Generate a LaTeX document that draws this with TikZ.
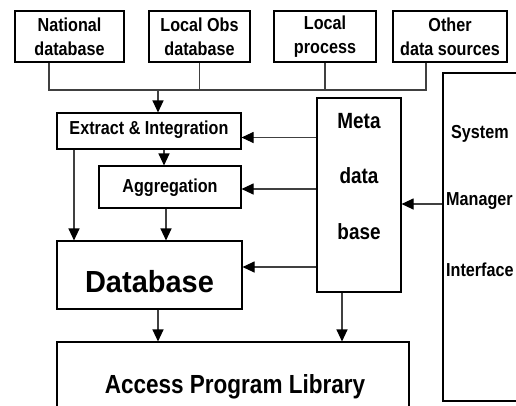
\documentclass[tikz,border=0pt]{standalone}
\usepackage{fontspec}
\setmainfont{Liberation Sans}[FakeStretch=0.86]
\newfontfamily\widefont{Liberation Sans}[FakeStretch=0.95]
\usetikzlibrary{arrows.meta,calc}

\begin{document}
\begin{tikzpicture}[x=1pt,y=-1pt,
  box/.style={draw=black, line width=1.1pt, rectangle, inner sep=0pt},
  top/.style={box, align=center, minimum height=51pt,
    font=\bfseries\fontsize{18.8}{24}\selectfont},
  lab/.style={inner sep=0pt, anchor=base, font=\bfseries\fontsize{18.8}{22}\selectfont},
  link/.style={draw=black!75, line width=1.1pt},
  arr/.style={link, -{Triangle[length=12pt,width=11pt,color=black]}}]

\useasboundingbox (0,0) rectangle (516,405);
\clip (0,0) rectangle (516,405);

% data sources
\node[top, minimum width=109pt] (nat)   at (69.5,36.5) {National\\database};
\node[top, minimum width=101pt] (lobs)  at (199.5,36.5) {Local Obs\\database};
\node[top, minimum width=102pt] (lproc) at (325,36.5) {Local\\process};
\node[top, minimum width=114pt] (other) at (450,36.5) {Other\\data sources};

% processing chain
\node[box, minimum width=184pt, minimum height=36pt] (extract) at (149,131) {};
\node[lab] (extract-t) at (149,134.5) {Extract \& Integration};
\node[box, minimum width=142pt, minimum height=42pt] (aggr) at (170,187) {};
\node[lab] (aggr-t) at (170,192.5) {Aggregation};
\node[box, minimum width=185pt, minimum height=68pt] (db) at (149.5,275) {};
\node[lab, font=\widefont\bfseries\fontsize{30.5}{36}\selectfont] (db-t) at (149.5,292) {Database};
\node[box, minimum width=352pt, minimum height=108pt] (apl) at (233,396) {};
\node[lab, font=\bfseries\fontsize{26.2}{30}\selectfont] (apl-t) at (235,393.3) {Access Program Library};

% metadata
\node[box, minimum width=84pt, minimum height=194pt] (meta) at (359,195) {};
\node[lab, font=\bfseries\fontsize{22}{24}\selectfont] (meta-1) at (359,128.3) {Meta};
\node[lab, font=\bfseries\fontsize{22}{24}\selectfont] (meta-2) at (359,183.3) {data};
\node[lab, font=\bfseries\fontsize{22}{24}\selectfont] (meta-3) at (359,239.3) {base};

% system manager interface
\node[box, minimum width=157pt, minimum height=328pt] (sys) at (521.5,237) {};
\node[lab, anchor=base west] (sys-1) at (451,138.3) {System};
\node[lab, anchor=base west] (sys-2) at (446,205) {Manager};
\node[lab, anchor=base west] (sys-3) at (446,276.7) {Interface};

% collector bus from the sources
\coordinate (bus) at (0,90);
\coordinate (d1) at ([xshift=-20.5pt]nat.south);
\coordinate (d4) at ([xshift=-24pt]other.south);
\draw[link] (d1) -- (d1 |- bus) -- (d4 |- bus) -- (d4);
\draw[link] (lobs.south) -- (lobs.south |- bus);
\draw[link] (lproc.south) -- (lproc.south |- bus);
\coordinate (etop) at ([xshift=9pt]extract.north);
\draw[arr] (etop |- bus) -- (etop);

% flow between stages
\coordinate (ea) at ([xshift=15pt]extract.south);
\draw[arr] (ea) -- (ea |- aggr.north);
\coordinate (ed) at ([xshift=-75pt]extract.south);
\draw[arr] (ed) -- (ed |- db.north);
\coordinate (ad) at ([xshift=-4pt]aggr.south);
\draw[arr] (ad) -- (ad |- db.north);
\coordinate (dl) at ([xshift=8.5pt]db.south);
\draw[arr] (dl) -- (dl |- apl.north);
\coordinate (ml) at ([xshift=-17pt]meta.south);
\draw[arr] (ml) -- (ml |- apl.north);

% metadata control
\coordinate (me) at ([yshift=-6.5pt]extract.east);
\draw[arr] (me -| meta.west) -- (me);
\coordinate (ma) at ([yshift=-2pt]aggr.east);
\draw[arr] (ma -| meta.west) -- (ma);
\coordinate (md) at ([yshift=8pt]db.east);
\draw[arr] (md -| meta.west) -- (md);
\coordinate (sm) at ([yshift=-9pt]meta.east);
\draw[arr] (sm -| sys.west) -- (sm);
\end{tikzpicture}
\end{document}
